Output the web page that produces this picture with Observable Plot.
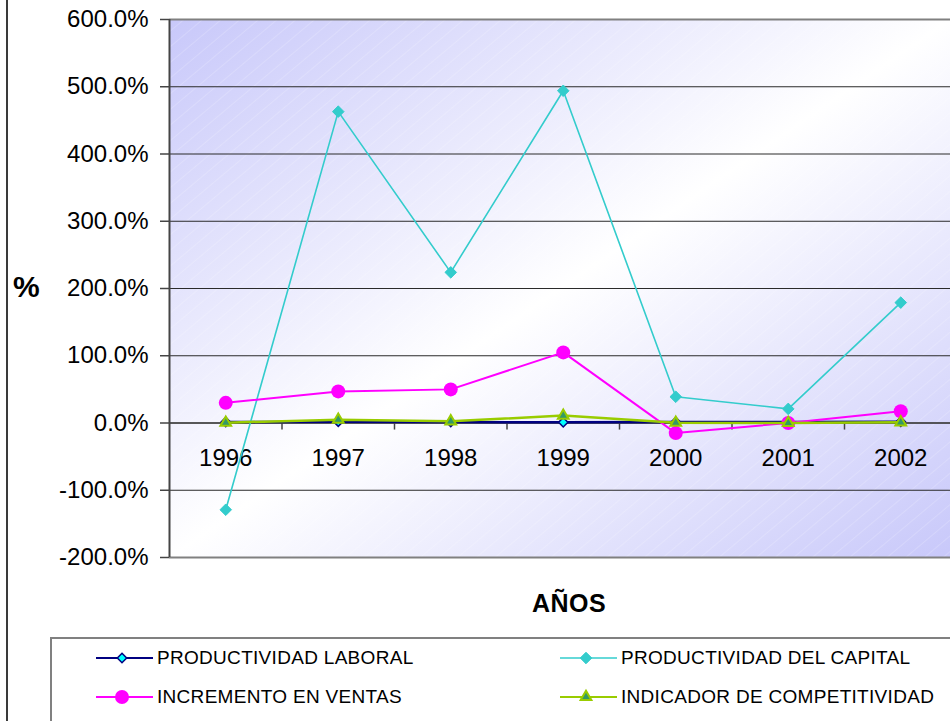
<!DOCTYPE html>
<html>
<head>
<meta charset="utf-8">
<script src="https://cdn.jsdelivr.net/npm/d3@7"></script>
<script src="https://cdn.jsdelivr.net/npm/@observablehq/plot@0.6"></script>
<style>
  html, body { margin: 0; padding: 0; background: #fff; }
  #wrap { position: relative; width: 950px; height: 721px; overflow: hidden; font-family: "Liberation Sans", Arial, sans-serif; background: #fff; }
  #wrap svg.plot { position: absolute; left: 0; top: 0; }
  .ttl { position: absolute; font-weight: bold; color: #000; white-space: nowrap; line-height: 1; }
  .leftborder { position: absolute; left: 6px; top: 0; width: 2px; height: 721px; background: #3a3a3a; }
  .legendbox { position: absolute; left: 50px; top: 637px; width: 940px; height: 120px; border-top: 2px solid #808080; border-left: 2px solid #808080; }
  .item { position: absolute; display: flex; align-items: center; height: 24px; white-space: nowrap; }
  .item span { font-size: 19px; letter-spacing: 0.3px; color: #000; margin-left: 4px; }
</style>
</head>
<body>
<div id="wrap">
  <div class="leftborder"></div>
  <div class="ttl" style="left:13px; top:272px; font-size:30px;">%</div>
  <div class="ttl" style="left:569px; top:591px; font-size:25px; letter-spacing:0.5px; transform:translateX(-50%);">AÑOS</div>
  <div class="legendbox"></div>
</div>
<script>
// ---- data ----
const years = [1996, 1997, 1998, 1999, 2000, 2001, 2002];
const productividadLaboral = [1.5, 2, 1.5, 1, 1.5, 1.5, 2];
const productividadCapital = [-129, 463, 224, 494, 39, 21, 179];
const incrementoVentas = [30, 47, 50, 105, -15, 0, 17.5];
const indicadorCompetitividad = [0.5, 5, 2.5, 11, 0.5, 0, 1];
const yTicks = [-200, -100, 0, 100, 200, 300, 400, 500, 600];
const seriesNames = ["PRODUCTIVIDAD LABORAL", "PRODUCTIVIDAD DEL CAPITAL", "INCREMENTO EN VENTAS", "INDICADOR DE COMPETITIVIDAD"];

// ---- styles ----
const styles = [
  {values: productividadLaboral, line: "#000080", lw: 2.5, symbol: "diamond2", r: 4.2, fill: "#00ffff", stroke: "#000080", sw: 1.5},
  {values: productividadCapital, line: "#33cccc", lw: 1.6, symbol: "diamond2", r: 5.2, fill: "#33cccc", stroke: "#33cccc", sw: 1},
  {values: incrementoVentas, line: "#ff00ff", lw: 2, symbol: "circle", r: 7, fill: "#ff00ff", stroke: "#ff00ff", sw: 0},
  {values: indicadorCompetitividad, line: "#99cc00", lw: 2.5, symbol: "triangle", r: 4, fill: "#339966", stroke: "#99cc00", sw: 2}
];

const marks = [
  Plot.frame({fill: "url(#bgGrad)", stroke: null}),
  Plot.frame({fill: "url(#hatch)", stroke: null}),
  Plot.gridY(yTicks.slice(1, -1), {stroke: "#2a2a2a", strokeOpacity: 1, strokeWidth: 1}),
  Plot.ruleY([yTicks[0], yTicks[yTicks.length - 1]], {stroke: "#808080", strokeWidth: 2}),
  Plot.ruleY([0], {stroke: "#444", strokeWidth: 1.5}),
  Plot.ruleX(years.slice(0, -1).map(y => y + 0.5), {y1: 0, y2: -10.5, stroke: "#444", strokeWidth: 1.5}),
  Plot.ruleX([years[0] - 0.5], {stroke: "#444", strokeWidth: 2}),
  Plot.axisY({ticks: yTicks, tickFormat: d => d.toFixed(1) + "%", tickSize: 9, tickPadding: 12, fontSize: 24, label: null, stroke: "#444", strokeWidth: 1.5}),
  Plot.text(years, {x: d => d, y: 0, dy: 35, text: d => String(d), fontSize: 24, fill: "#000"})
];

styles.forEach((s, k) => {
  const data = years.map((year, i) => ({year, value: s.values[i], series: seriesNames[k]}));
  marks.push(Plot.line(data, {x: "year", y: "value", stroke: s.line, strokeWidth: s.lw}));
  marks.push(Plot.dot(data, {x: "year", y: "value", symbol: s.symbol, r: s.r, fill: s.fill, stroke: s.stroke, strokeWidth: s.sw}));
});

const chart = Plot.plot({
  width: 950,
  height: 721,
  marginLeft: 169,
  marginRight: 0,
  marginTop: 19,
  marginBottom: 164,
  style: {fontFamily: "Liberation Sans, Arial, sans-serif", fontSize: "24px", color: "#000", background: "transparent"},
  x: {type: "linear", domain: [years[0] - 0.5, years[years.length - 1] + 0.5], range: [169, 956.5], axis: null},
  y: {domain: [yTicks[0], yTicks[yTicks.length - 1]], axis: null},
  marks
});
chart.classList.add("plot");
chart.insertAdjacentHTML("afterbegin", `
<defs>
  <linearGradient id="bgGrad" x1="0" y1="0" x2="1" y2="1">
    <stop offset="0" stop-color="#c8c8fa"/>
    <stop offset="0.5" stop-color="#ffffff"/>
    <stop offset="1" stop-color="#c8c8fa"/>
  </linearGradient>
  <pattern id="hatch" patternUnits="userSpaceOnUse" width="12" height="12" patternTransform="rotate(-40)">
    <line x1="0" y1="0" x2="12" y2="0" stroke="#ffffff" stroke-opacity="0.35" stroke-width="1"/>
  </pattern>
</defs>`);
const wrap = document.getElementById("wrap");
wrap.insertBefore(chart, wrap.firstChild);

// ---- legend ----
const legendPos = [[96, 646], [560, 646], [96, 685], [560, 685]];
const legendOrder = [0, 1, 2, 3];
function markerSvg(s) {
  const sym = {diamond2: d3.symbolDiamond2, circle: d3.symbolCircle, triangle: d3.symbolTriangle}[s.symbol];
  const path = d3.symbol(sym, Math.PI * s.r * s.r)();
  return `<svg width="57" height="24"><line x1="0" y1="12" x2="57" y2="12" stroke="${s.line}" stroke-width="${Math.min(s.lw, 2)}"/>
    <path d="${path}" transform="translate(26,12)" fill="${s.fill}" stroke="${s.stroke}" stroke-width="${s.sw}"/></svg>`;
}
legendOrder.forEach((k, j) => {
  const div = document.createElement("div");
  div.className = "item";
  div.style.left = legendPos[j][0] + "px";
  div.style.top = legendPos[j][1] + "px";
  div.innerHTML = markerSvg(styles[k]) + `<span>${seriesNames[k]}</span>`;
  wrap.appendChild(div);
});
</script>
</body>
</html>
